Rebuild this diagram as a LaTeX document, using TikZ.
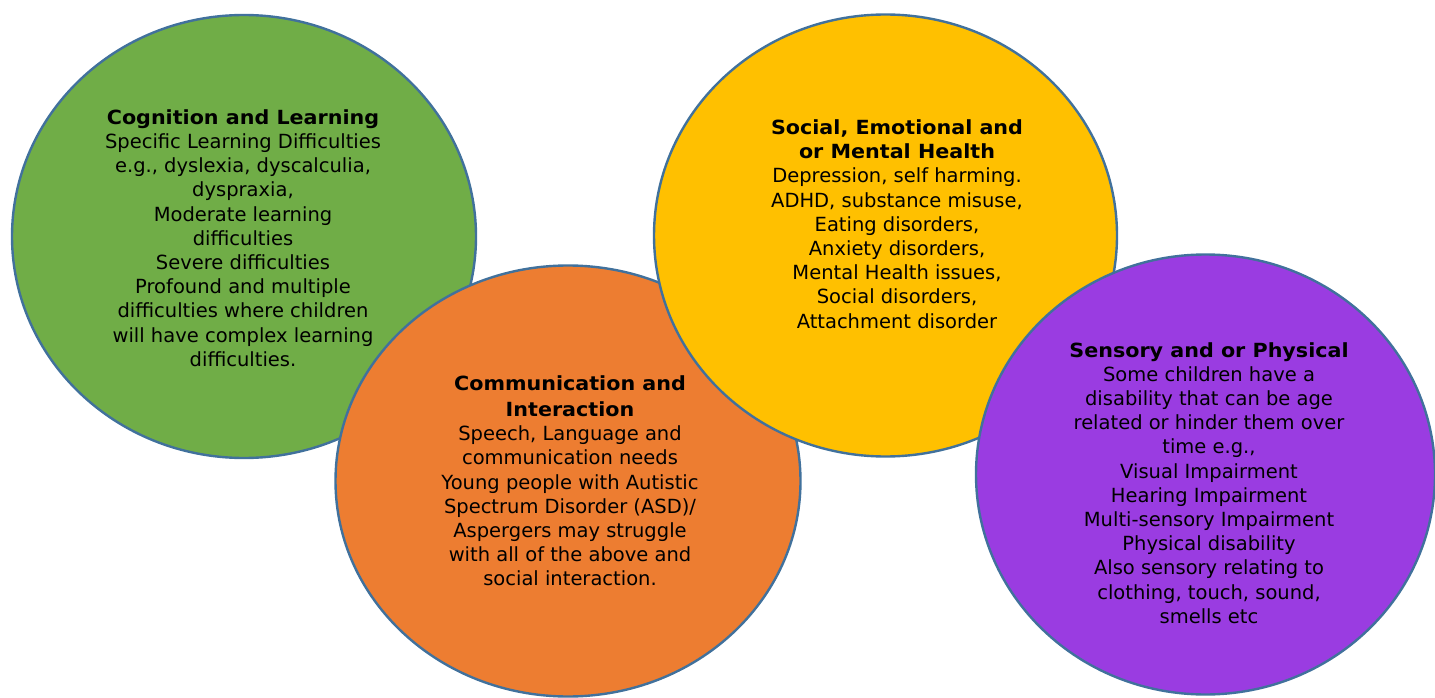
\documentclass[tikz,border=0pt]{standalone}
\usepackage{fontspec}
\setmainfont{DejaVu Sans}[BoldFeatures={FakeStretch=1.06}]
\usetikzlibrary{shapes.geometric}
\definecolor{cgreen}{HTML}{70AD47}
\definecolor{corange}{HTML}{ED7D31}
\definecolor{cyellow}{HTML}{FFC000}
\definecolor{cpurple}{HTML}{9A3CE1}
\definecolor{cborder}{HTML}{41719C}
\tikzset{
  blob/.style={ellipse, draw=cborder, line width=2.4pt, inner sep=0pt},
  txt/.style={align=center, font=\fontsize{19.5}{24.2}\selectfont, text=black, inner sep=0pt},
}
\begin{document}
\begin{tikzpicture}[x=1pt,y=-1pt]
\useasboundingbox (0,0) rectangle (1435,698);
\node[blob, fill=cgreen, minimum width=464pt, minimum height=443pt] (green) at (244,236.5) {};
\node[blob, fill=corange, minimum width=465pt, minimum height=431pt] (orange) at (568,481) {};
\node[blob, fill=cyellow, minimum width=463pt, minimum height=442pt] (yellow) at (885.5,235.5) {};
\node[blob, fill=cpurple, minimum width=459pt, minimum height=440pt] (purple) at (1205.5,474.5) {};
\node[txt] (tgreen) at (243,238) {\textbf{Cognition and Learning}\\Specific Learning Difficulties\\e.g., dyslexia, dyscalculia,\\dyspraxia,\\Moderate learning\\difficulties\\Severe difficulties\\Profound and multiple\\difficulties where children\\will have complex learning\\difficulties.};
\node[txt] (torange) at (570,481) {\textbf{Communication and}\\[1.5pt]\textbf{Interaction}\\Speech, Language and\\communication needs\\Young people with Autistic\\Spectrum Disorder (ASD)/\\Aspergers may struggle\\with all of the above and\\social interaction.};
\node[txt] (tyellow) at (897,224) {\textbf{Social, Emotional and}\\\textbf{or Mental Health}\\Depression, self harming.\\ADHD, substance misuse,\\Eating disorders,\\Anxiety disorders,\\Mental Health issues,\\Social disorders,\\Attachment disorder};
\node[txt] (tpurple) at (1209,483) {\textbf{Sensory and or Physical}\\Some children have a\\disability that can be age\\related or hinder them over\\time e.g.,\\Visual Impairment\\Hearing Impairment\\Multi-sensory Impairment\\Physical disability\\Also sensory relating to\\clothing, touch, sound,\\smells etc};
\end{tikzpicture}
\end{document}
